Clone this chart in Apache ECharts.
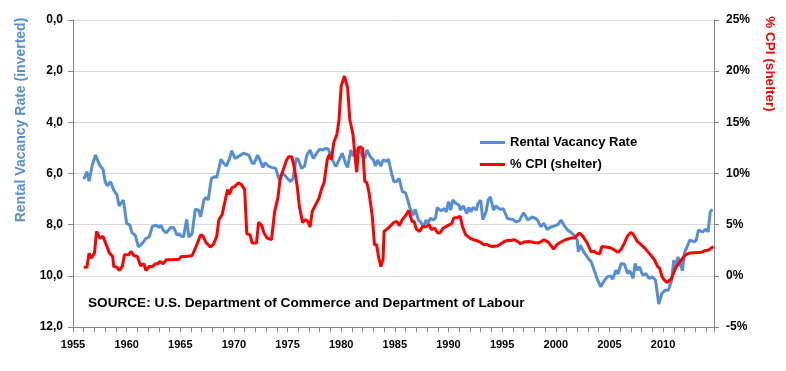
<!DOCTYPE html>
<html><head><meta charset="utf-8">
<script src="https://cdn.jsdelivr.net/npm/echarts@6/dist/echarts.min.js"></script>
<style>html,body{margin:0;padding:0;background:#fff}#c{width:786px;height:371px}</style>
</head><body><div id="c"></div>
<script>
const vacancyYears = [1956.0,1956.3,1956.5,1956.8,1957.1,1957.2,1957.5,1957.8,1958.0,1958.2,1958.5,1958.8,1959.1,1959.3,1959.7,1960.0,1960.3,1960.5,1960.8,1961.1,1961.5,1961.8,1962.1,1962.4,1962.8,1963.0,1963.2,1963.4,1963.7,1964.1,1964.4,1964.7,1964.9,1965.1,1965.3,1965.6,1965.8,1966.1,1966.4,1966.7,1966.9,1967.2,1967.4,1967.6,1967.9,1968.2,1968.4,1968.8,1969.0,1969.3,1969.6,1969.8,1970.1,1970.4,1970.9,1971.2,1971.4,1971.7,1971.9,1972.2,1972.4,1972.7,1972.9,1973.2,1973.5,1973.9,1974.2,1974.5,1974.8,1975.0,1975.3,1975.5,1975.8,1976.0,1976.3,1976.6,1976.8,1977.1,1977.4,1977.8,1978.0,1978.3,1978.6,1978.8,1979.1,1979.5,1979.8,1980.1,1980.4,1980.6,1980.9,1981.1,1981.4,1981.7,1981.9,1982.2,1982.4,1982.7,1983.0,1983.2,1983.4,1983.7,1983.9,1984.2,1984.4,1984.7,1984.9,1985.2,1985.4,1985.7,1986.0,1986.2,1986.4,1986.7,1986.9,1987.2,1987.4,1987.7,1987.9,1988.1,1988.3,1988.6,1988.8,1988.95,1989.3,1989.6,1989.8,1990.0,1990.2,1990.4,1990.7,1991.0,1991.1,1991.4,1991.7,1991.9,1992.1,1992.3,1992.6,1992.75,1993.0,1993.2,1993.5,1993.7,1993.9,1994.2,1994.4,1994.7,1994.9,1995.1,1995.5,1996.0,1996.3,1996.6,1997.0,1997.4,1997.8,1998.1,1998.3,1998.6,1998.9,1999.2,1999.5,1999.8,2000.2,2000.5,2000.8,2001.1,2001.4,2001.7,2002.0,2002.1,2002.3,2002.6,2003.0,2003.3,2003.6,2003.9,2004.2,2004.5,2004.8,2005.1,2005.3,2005.6,2005.8,2006.1,2006.4,2006.7,2006.9,2007.2,2007.4,2007.6,2007.8,2008.1,2008.4,2008.7,2009.0,2009.3,2009.6,2009.9,2010.2,2010.5,2010.8,2011.0,2011.2,2011.4,2011.55,2011.8,2012.0,2012.3,2012.5,2012.9,2013.1,2013.3,2013.5,2013.7,2014.0,2014.2,2014.4,2014.6];
const vacancyRate = [6.22,5.93,6.3,5.67,5.28,5.28,5.69,5.83,6.32,6.48,6.32,6.65,6.84,7.27,7.04,7.95,8.02,8.32,8.41,8.87,8.71,8.54,8.48,8.06,8.02,8.11,8.02,8.21,8.32,8.11,8.12,8.41,8.36,8.45,8.48,7.8,8.48,8.35,7.4,7.43,7.69,7.04,6.93,7.04,6.19,6.13,6.15,5.44,5.58,5.71,5.41,5.11,5.41,5.34,5.21,5.25,5.29,5.6,5.6,5.28,5.45,5.76,5.58,5.71,5.76,5.8,6.23,5.97,6.1,6.2,6.32,6.2,5.41,5.45,5.8,5.7,5.28,5.08,5.41,5.15,5.05,5.08,5.02,5.05,5.41,5.73,5.47,5.21,5.6,5.76,5.08,5.32,5.08,5.05,5.28,5.41,5.08,5.34,5.47,5.71,5.47,5.71,5.47,5.53,5.44,6.0,6.32,6.3,6.19,6.71,6.76,7.04,7.33,7.63,7.4,7.82,7.89,8.08,7.82,7.95,7.75,7.82,7.72,7.33,7.46,7.37,7.5,7.1,7.43,7.04,7.17,7.24,7.43,7.27,7.56,7.33,7.5,7.33,7.43,7.17,7.04,7.8,7.5,7.04,6.91,7.43,7.27,7.37,7.4,7.37,7.76,7.8,7.89,7.85,7.53,7.82,7.7,7.75,7.82,8.08,7.95,8.19,8.1,8.06,8.0,7.82,8.05,8.21,8.3,8.41,8.6,9.06,8.8,9.06,9.3,9.45,9.8,10.17,10.43,10.2,10.04,10.0,10.13,9.78,9.93,9.52,9.55,9.91,9.8,10.1,9.52,9.78,9.65,9.98,9.91,10.1,10.04,10.17,11.1,10.69,10.56,10.56,10.17,9.39,9.6,9.26,9.2,9.8,9.1,8.8,8.6,8.67,8.6,8.21,8.25,8.28,8.18,8.28,7.5,7.4];

const cpiYears = [1956.0,1956.3,1956.5,1956.7,1957.0,1957.2,1957.5,1957.8,1958.1,1958.4,1958.7,1958.8,1959.1,1959.3,1959.6,1959.8,1960.2,1960.4,1960.7,1961.0,1961.3,1961.6,1961.8,1962.1,1962.4,1962.7,1962.9,1963.1,1963.4,1963.7,1964.3,1964.9,1965.1,1965.5,1966.1,1966.5,1966.9,1967.1,1967.4,1967.8,1968.1,1968.4,1968.6,1968.9,1969.1,1969.4,1969.6,1969.8,1970.1,1970.4,1970.7,1971.0,1971.2,1971.5,1971.7,1972.1,1972.3,1972.6,1972.8,1973.1,1973.5,1973.8,1974.1,1974.3,1974.6,1974.9,1975.1,1975.4,1975.6,1975.9,1976.1,1976.4,1976.7,1976.9,1977.1,1977.3,1977.7,1977.9,1978.2,1978.4,1978.7,1978.9,1979.1,1979.3,1979.6,1979.8,1980.0,1980.3,1980.4,1980.6,1980.8,1981.1,1981.3,1981.45,1981.6,1981.8,1982.0,1982.2,1982.4,1982.6,1982.9,1983.1,1983.3,1983.5,1983.7,1983.9,1984.0,1984.4,1984.7,1984.9,1985.2,1985.4,1985.7,1986.0,1986.3,1986.4,1986.6,1986.8,1987.0,1987.3,1987.6,1987.9,1988.2,1988.4,1988.7,1989.0,1989.2,1989.5,1989.8,1990.1,1990.3,1990.5,1990.8,1991.1,1991.3,1991.6,1992.0,1992.3,1992.6,1993.0,1993.3,1993.5,1993.8,1994.1,1994.6,1995.0,1995.2,1995.5,1995.8,1996.1,1996.4,1996.7,1997.0,1997.5,1998.0,1998.4,1998.9,1999.3,1999.8,2000.1,2000.4,2000.9,2001.4,2001.7,2002.2,2002.5,2002.9,2003.3,2003.6,2003.8,2004.1,2004.3,2004.8,2005.1,2005.5,2005.8,2006.1,2006.4,2006.7,2007.0,2007.2,2007.6,2008.0,2008.3,2008.7,2009.2,2009.5,2009.7,2009.9,2010.1,2010.4,2010.6,2010.8,2011.2,2011.6,2012.0,2012.4,2012.8,2013.2,2013.6,2013.9,2014.2,2014.5,2014.7];
const cpiShelter = [0.85,0.85,2.22,1.73,2.22,4.34,3.69,3.85,3.04,2.22,1.89,0.91,0.85,0.52,0.91,2.06,2.06,2.38,1.96,1.89,0.98,1.18,0.52,0.91,0.91,1.18,1.18,1.41,1.18,1.57,1.57,1.63,1.9,1.9,1.96,2.94,4.02,3.9,3.26,2.81,3.1,3.85,5.49,5.97,6.95,8.42,7.97,8.59,8.75,9.08,8.91,8.42,4.11,4.0,3.2,3.2,5.22,4.9,4.18,3.69,3.53,6.3,7.61,9.4,10.38,11.3,11.63,11.63,10.7,8.75,6.79,5.22,5.49,5.3,4.77,6.3,7.12,7.51,8.59,9.08,11.36,11.85,11.36,13.0,13.81,15.28,18.54,19.52,19.69,18.38,15.28,13.81,11.53,10.12,12.51,12.6,12.4,9.24,9.08,8.1,5.81,3.04,3.04,1.73,0.91,1.63,4.34,4.67,5.0,5.22,5.32,4.9,5.49,5.88,6.4,6.46,5.32,5.3,4.57,4.34,4.83,4.8,5.0,4.5,4.67,4.18,4.2,4.67,4.83,5.0,5.1,5.65,5.7,5.81,4.83,4.02,3.69,3.53,3.46,3.26,3.04,3.1,2.94,2.87,2.94,3.2,3.36,3.46,3.45,3.53,3.4,3.13,3.3,3.36,3.26,3.2,3.53,3.3,2.61,3.04,3.26,3.53,3.69,3.69,4.18,3.9,3.26,2.35,2.4,2.22,2.15,2.87,2.8,2.75,2.5,2.3,2.6,3.2,3.92,4.24,4.1,3.36,3.0,2.71,2.22,1.57,0.91,0.7,-0.07,-0.39,-0.65,-0.45,-0.23,0.85,1.4,1.96,2.2,2.25,2.28,2.3,2.48,2.5,2.71,2.87];

const seriesNames = ['Rental Vacancy Rate', '% CPI (shelter)'];
const leftAxisTitle = 'Rental Vacancy Rate (inverted)';
const rightAxisTitle = '% CPI (shelter)';
const sourceText = 'SOURCE: U.S. Department of Commerce and Department of Labour';

const BLUE = '#558ED5', RED = '#FF0000';
const chart = echarts.init(document.getElementById('c'), null, {renderer: 'canvas'});
const pair = (xs, ys) => xs.map((x, i) => [x, ys[i]]);
const axisLineStyle = {show: true, onZero: false, lineStyle: {color: '#868686', width: 1}};

chart.setOption({
  animation: false,
  backgroundColor: '#ffffff',
  grid: {left: 73, right: 72, top: 20, bottom: 44, containLabel: false},
  legend: {
    orient: 'vertical', left: 475, top: 131, itemWidth: 25, itemHeight: 3, itemGap: 9,
    icon: 'rect',
    textStyle: {fontFamily: 'Liberation Sans', fontWeight: 'bold', fontSize: 13, color: '#000'},
    data: seriesNames
  },
  xAxis: {
    type: 'value', min: 1955, max: 2014.75, interval: 1,
    axisLine: axisLineStyle,
    axisTick: {show: true, length: 5, lineStyle: {color: '#868686'}},
    splitLine: {show: false},
    axisLabel: {
      margin: 12, color: '#000', fontFamily: 'Liberation Sans', fontWeight: 'bold', fontSize: 11,
      formatter: v => (Math.abs(v % 5) < 1e-6 ? String(v) : '')
    }
  },
  yAxis: [{
    type: 'value', inverse: true, min: 0, max: 12, interval: 2, position: 'left',
    axisLine: axisLineStyle,
    axisTick: {show: true, length: 5, lineStyle: {color: '#868686'}},
    splitLine: {show: true, lineStyle: {color: '#d9d9d9', width: 1}},
    axisLabel: {
      margin: 10, color: '#000', fontFamily: 'Liberation Sans', fontWeight: 'bold', fontSize: 12,
      formatter: v => v.toFixed(1).replace('.', ',')
    }
  }, {
    type: 'value', min: -5, max: 25, interval: 5, position: 'right',
    axisLine: axisLineStyle,
    axisTick: {show: true, length: 5, lineStyle: {color: '#868686'}},
    splitLine: {show: false},
    axisLabel: {
      margin: 12, color: '#000', fontFamily: 'Liberation Sans', fontWeight: 'bold', fontSize: 12,
      formatter: v => v + '%'
    }
  }],
  graphic: [
    {type: 'text', x: 21, y: 120, rotation: Math.PI / 2,
     style: {text: leftAxisTitle, fill: BLUE, font: 'bold 14px "Liberation Sans"', textAlign: 'center', textVerticalAlign: 'middle', align: 'center', verticalAlign: 'middle'}},
    {type: 'text', x: 770, y: 64, rotation: -Math.PI / 2,
     style: {text: rightAxisTitle, fill: RED, font: 'bold 13.5px "Liberation Sans"', textAlign: 'center', textVerticalAlign: 'middle', align: 'center', verticalAlign: 'middle'}},
    {type: 'text', x: 88, y: 303,
     style: {text: sourceText, fill: '#000', font: 'bold 13.6px "Liberation Sans"', textAlign: 'left', textVerticalAlign: 'middle', align: 'left', verticalAlign: 'middle'}}
  ],
  series: [{
    name: seriesNames[0], type: 'line', yAxisIndex: 0, showSymbol: false, symbol: 'none',
    lineStyle: {color: BLUE, width: 3}, itemStyle: {color: BLUE},
    data: pair(vacancyYears, vacancyRate)
  }, {
    name: seriesNames[1], type: 'line', yAxisIndex: 1, showSymbol: false, symbol: 'none',
    lineStyle: {color: RED, width: 3}, itemStyle: {color: RED},
    data: pair(cpiYears, cpiShelter)
  }]
});
</script>
</body></html>
